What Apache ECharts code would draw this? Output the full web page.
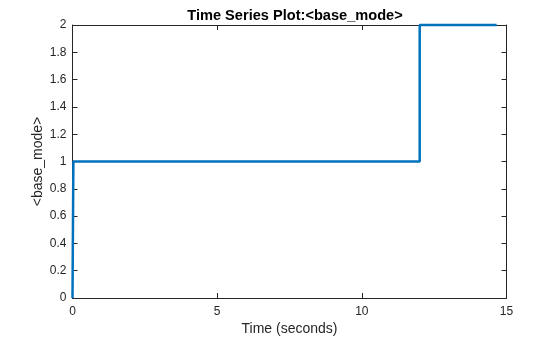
<!DOCTYPE html>
<html><head><meta charset="utf-8">
<script src="https://cdn.jsdelivr.net/npm/echarts@6/dist/echarts.min.js"></script>
<style>html,body{margin:0;padding:0;background:#fff}#c{width:560px;height:337px}</style>
</head><body><div id="c"></div>
<script>
var times = [0, 0.03, 12.0, 12.0, 14.66];
var values = [0, 1, 1, 2, 2];
var xTicks = [0, 5, 10, 15];
var yTicks = [0, 0.2, 0.4, 0.6, 0.8, 1, 1.2, 1.4, 1.6, 1.8, 2];

var font = 'Liberation Sans, Arial, sans-serif';
var axColor = '#262626';
var chart = echarts.init(document.getElementById('c'), null, {renderer: 'canvas'});
var pts = times.map(function (t, i) { return [t, values[i]]; });
function xAx(pos, show) {
  return {
    type: 'value', position: pos, min: 0, max: 15, interval: 5,
    axisLine: {show: true, onZero: false, lineStyle: {color: axColor, width: 1}},
    axisTick: {show: true, inside: true, length: 5, lineStyle: {color: axColor}},
    axisLabel: {show: show, color: axColor, fontFamily: font, fontSize: 12, margin: 8},
    splitLine: {show: false},
    name: show ? 'Time (seconds)' : '', nameLocation: 'middle', nameGap: 24, nameMoveOverlap: false,
    nameTextStyle: {color: axColor, fontFamily: font, fontSize: 14}
  };
}
function yAx(pos, show) {
  return {
    type: 'value', position: pos, min: 0, max: 2, interval: 0.2,
    axisLine: {show: true, onZero: false, lineStyle: {color: axColor, width: 1}},
    axisTick: {show: true, inside: true, length: 5, lineStyle: {color: axColor}},
    axisLabel: {show: show, color: axColor, fontFamily: font, fontSize: 12, margin: 6,
      formatter: function (v) { return String(Math.round(v * 10) / 10); }},
    splitLine: {show: false},
    name: show ? '<base_mode>' : '', nameLocation: 'middle', nameGap: 27, nameRotate: 90, nameMoveOverlap: false,
    nameTextStyle: {color: axColor, fontFamily: font, fontSize: 14}
  };
}
chart.setOption({
  animation: false,
  title: {text: 'Time Series Plot:<base_mode>', left: 290, top: 3, textAlign: 'center',
    textStyle: {color: '#000', fontFamily: font, fontSize: 14.6, fontWeight: 'bold'}},
  grid: {left: 72.5, right: 53.5, top: 25, bottom: 39, containLabel: false, outerBoundsMode: 'none'},
  xAxis: [xAx('bottom', true), xAx('top', false)],
  yAxis: [yAx('left', true), yAx('right', false)],
  series: [{
    type: 'line', data: pts, showSymbol: false, symbol: 'none',
    lineStyle: {color: '#0072BD', width: 2.5}, clip: false
  }]
});
</script></body></html>
